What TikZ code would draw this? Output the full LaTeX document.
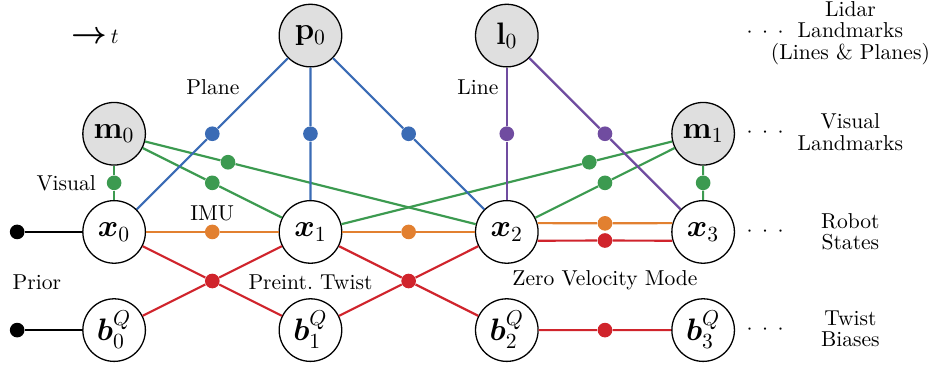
\documentclass[tikz,border=0pt]{standalone}
\usepackage{amsmath,amssymb,bm}
\usetikzlibrary{calc,positioning}
\definecolor{fblue}{RGB}{58,107,181}
\definecolor{fgreen}{RGB}{60,154,80}
\definecolor{forange}{RGB}{226,128,48}
\definecolor{fred}{RGB}{208,36,44}
\definecolor{fpurple}{RGB}{112,76,160}
\begin{document}
\begin{tikzpicture}[font=\normalsize,var/.style={draw,circle,semithick,fill=white,minimum size=10.2mm,inner sep=0pt,font=\Large},lm/.style={var,fill=gray!25},fac/.style={circle,fill=#1,minimum size=6.8pt,inner sep=0pt},con/.style={line width=1pt,draw=#1},side/.style={align=center,font={\fontsize{10}{10}\selectfont}},dots/.style={inner sep=0pt}]
\useasboundingbox (-1.86,-2.17) rectangle (13.33,3.78);
\node[var] (x0) at (0,0) {$\boldsymbol{x}_0$};
\node[var] (x1) at (3.2,0) {$\boldsymbol{x}_1$};
\node[var] (x2) at (6.4,0) {$\boldsymbol{x}_2$};
\node[var] (x3) at (9.6,0) {$\boldsymbol{x}_3$};
\node[var] (b0) at (0,-1.6) {$\boldsymbol{b}_0^Q$};
\node[var] (b1) at (3.2,-1.6) {$\boldsymbol{b}_1^Q$};
\node[var] (b2) at (6.4,-1.6) {$\boldsymbol{b}_2^Q$};
\node[var] (b3) at (9.6,-1.6) {$\boldsymbol{b}_3^Q$};
\node[lm] (m0) at (0,1.6) {$\mathbf{m}_0$};
\node[lm] (m1) at (9.6,1.6) {$\mathbf{m}_1$};
\node[lm] (p0) at (3.2,3.2) {$\mathbf{p}_0$};
\node[lm] (l0) at (6.4,3.2) {$\mathbf{l}_0$};
\node[fac=black] (pr0) at (-1.58,0) {};
\node[fac=black] (pr1) at (-1.58,-1.6) {};
\node[fac=fgreen] (fm00) at ($(m0)!0.5!(x0)$) {};
\node[fac=fgreen] (fm01) at ($(m0)!0.5!(x1)$) {};
\node[fac=fgreen] (fm02) at ($(m0)!0.29!(x2)$) {};
\node[fac=fgreen] (fm11) at ($(m1)!0.29!(x1)$) {};
\node[fac=fgreen] (fm12) at ($(m1)!0.5!(x2)$) {};
\node[fac=fgreen] (fm13) at ($(m1)!0.5!(x3)$) {};
\node[fac=fblue] (fp0) at ($(p0)!0.5!(x0)$) {};
\node[fac=fblue] (fp1) at ($(p0)!0.5!(x1)$) {};
\node[fac=fblue] (fp2) at ($(p0)!0.5!(x2)$) {};
\node[fac=fpurple] (fl2) at ($(l0)!0.5!(x2)$) {};
\node[fac=fpurple] (fl3) at ($(l0)!0.5!(x3)$) {};
\node[fac=forange] (fi01) at ($(x0)!0.5!(x1)$) {};
\node[fac=forange] (fi12) at ($(x1)!0.5!(x2)$) {};
\node[fac=forange] (fi23) at ($(x2)!0.5!(x3)+(0,0.14)$) {};
\node[fac=fred] (ft01) at ($(x0)!0.5!(b1)$) {};
\node[fac=fred] (ft12) at ($(x1)!0.5!(b2)$) {};
\node[fac=fred] (fz23) at ($(x2)!0.5!(x3)-(0,0.14)$) {};
\node[fac=fred] (fb23) at ($(b2)!0.5!(b3)$) {};
\draw[con=black] (pr0)--(x0);
\draw[con=black] (pr1)--(b0);
\draw[con=fgreen] (m0)--(fm00)--(x0);
\draw[con=fgreen] (m0)--(fm01)--(x1);
\draw[con=fgreen] (m0)--(fm02)--(x2);
\draw[con=fgreen] (m1)--(fm11)--(x1);
\draw[con=fgreen] (m1)--(fm12)--(x2);
\draw[con=fgreen] (m1)--(fm13)--(x3);
\draw[con=fblue] (p0)--(fp0)--(x0);
\draw[con=fblue] (p0)--(fp1)--(x1);
\draw[con=fblue] (p0)--(fp2)--(x2);
\draw[con=fpurple] (l0)--(fl2)--(x2);
\draw[con=fpurple] (l0)--(fl3)--(x3);
\draw[con=forange] (x0)--(fi01)--(x1);
\draw[con=forange] (x1)--(fi12)--(x2);
\draw[con=forange] (x2.16)--(fi23)--(x3.164);
\draw[con=fred] (x0)--(ft01)--(b1);
\draw[con=fred] (b0)--(ft01)--(x1);
\draw[con=fred] (x1)--(ft12)--(b2);
\draw[con=fred] (b1)--(ft12)--(x2);
\draw[con=fred] (x2.-16)--(fz23)--(x3.-164);
\draw[con=fred] (b2)--(fb23)--(b3);
\node (time) at (-0.31,3.18) {{\Large$\bm{\rightarrow}$}$\,t$};
\node (lvis) at (-0.78,0.8) {Visual};
\node (lplane) at (1.61,2.36) {Plane};
\node (lline) at (5.93,2.36) {Line};
\node (limu) at (1.6,0.31) {IMU};
\node (lprior) at (-1.26,-0.815) {Prior};
\node (ltwist) at (3.2,-0.815) {Preint.\ Twist};
\node (lzero) at (8.0,-0.78) {Zero Velocity Mode};
\node[dots] (dl) at (10.61,3.24) {${\cdot}\mkern8mu{\cdot}\mkern8mu{\cdot}$};
\node[dots] (dm) at (10.61,1.61) {${\cdot}\mkern8mu{\cdot}\mkern8mu{\cdot}$};
\node[dots] (dx) at (10.61,0) {${\cdot}\mkern8mu{\cdot}\mkern8mu{\cdot}$};
\node[dots] (db) at (10.61,-1.6) {${\cdot}\mkern8mu{\cdot}\mkern8mu{\cdot}$};
\node[side] (slidar) at (12.0,3.24) {Lidar\\Landmarks\\(Lines \& Planes)};
\node[side] (svis) at (12.0,1.63) {Visual\\Landmarks};
\node[side] (srobot) at (12.0,0) {Robot\\States};
\node[side] (sbias) at (12.0,-1.58) {Twist\\Biases};
\end{tikzpicture}
\end{document}
